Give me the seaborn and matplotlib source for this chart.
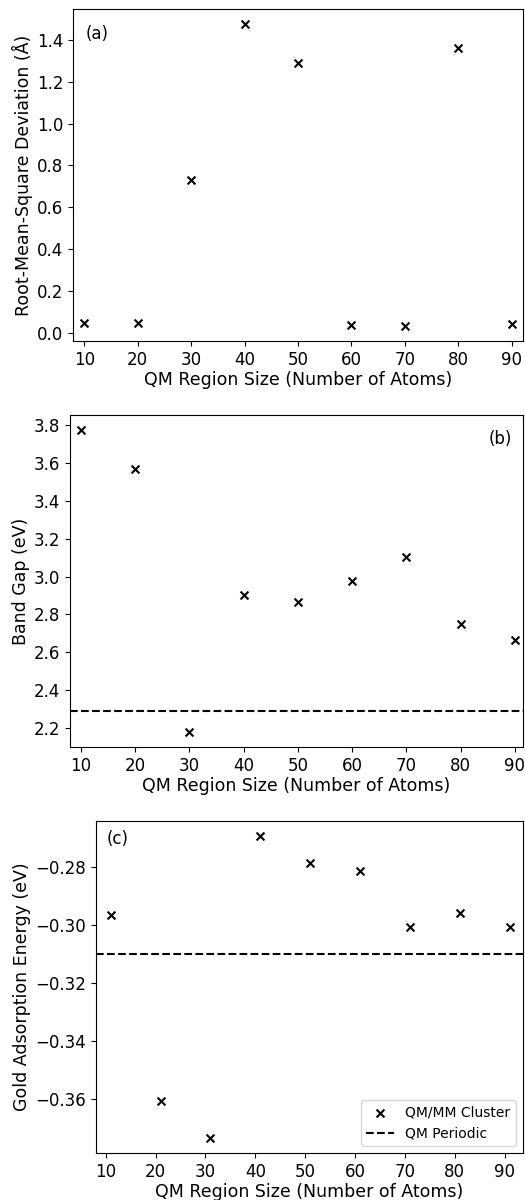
import matplotlib
matplotlib.use("Agg")
import matplotlib.pyplot as plt
import seaborn as sns
import pandas as pd

# Data
qm_size_ab = [10, 20, 30, 40, 50, 60, 70, 80, 90]
qm_size_c = [11, 21, 31, 41, 51, 61, 71, 81, 91]
rmsd = [0.048, 0.048, 0.729, 1.477, 1.289, 0.037, 0.032, 1.361, 0.040]
band_gap = [3.774, 3.568, 2.179, 2.903, 2.866, 2.979, 3.104, 2.747, 2.664]
band_gap_periodic = 2.288
adsorption = [-0.2964, -0.3606, -0.3734, -0.2693, -0.2787, -0.2814, -0.3007, -0.2958, -0.3007]
adsorption_periodic = -0.3100
xticks = [10, 20, 30, 40, 50, 60, 70, 80, 90]

plt.rcParams['font.family'] = ['DejaVu Sans']
FS_TICK = 12
FS_LAB = 12.5

W, H = 525, 1200
fig = plt.figure(figsize=(W / 100, H / 100), dpi=100)

def add_ax(left, top, right, bottom):
    return fig.add_axes([left / W, (H - bottom) / H, (right - left) / W, (bottom - top) / H])

ax_a = add_ax(73, 9, 523, 341)
ax_b = add_ax(70, 415, 523, 747)
ax_c = add_ax(96, 821, 523, 1153)

xlabel = "QM Region Size (Number of Atoms)"

# (a)
df_a = pd.DataFrame({"x": qm_size_ab, "y": rmsd})
sns.scatterplot(data=df_a, x="x", y="y", marker="x", color="black", s=32, linewidth=1.5, ax=ax_a)
ax_a.set_xlim(7.9, 92.1)
ax_a.set_ylabel("Root-Mean-Square Deviation (Å)", fontsize=FS_LAB, labelpad=3)
ax_a.text(0.027, 0.925, "(a)", transform=ax_a.transAxes, fontsize=FS_TICK, va="center", ha="left")

# (b)
df_b = pd.DataFrame({"x": qm_size_ab, "y": band_gap})
sns.scatterplot(data=df_b, x="x", y="y", marker="x", color="black", s=32, linewidth=1.5, ax=ax_b)
ax_b.axhline(band_gap_periodic, color="black", linestyle="--", linewidth=1.5)
ax_b.set_xlim(8.0, 91.5)
ax_b.set_ylabel("Band Gap (eV)", fontsize=FS_LAB, labelpad=3)
ax_b.text(0.950, 0.928, "(b)", transform=ax_b.transAxes, fontsize=FS_TICK, va="center", ha="center")

# (c)
df_c = pd.DataFrame({"x": qm_size_c, "y": adsorption})
sns.scatterplot(data=df_c, x="x", y="y", marker="x", color="black", s=32, linewidth=1.5,
                ax=ax_c, label="QM/MM Cluster")
ax_c.axhline(adsorption_periodic, color="black", linestyle="--", linewidth=1.5, label="QM Periodic")
ax_c.set_xlim(8.06, 93.7)
ax_c.set_ylabel("Gold Adsorption Energy (eV)", fontsize=FS_LAB, labelpad=3)
ax_c.text(0.026, 0.946, "(c)", transform=ax_c.transAxes, fontsize=FS_TICK, va="center", ha="left")
ax_c.legend(loc="lower right", fontsize=10)

for ax in (ax_a, ax_b, ax_c):
    ax.set_xticks(xticks)
    ax.set_xlabel(xlabel, fontsize=FS_LAB, labelpad=1.5)
    ax.tick_params(labelsize=FS_TICK)

fig.savefig("out.png", dpi=100)
